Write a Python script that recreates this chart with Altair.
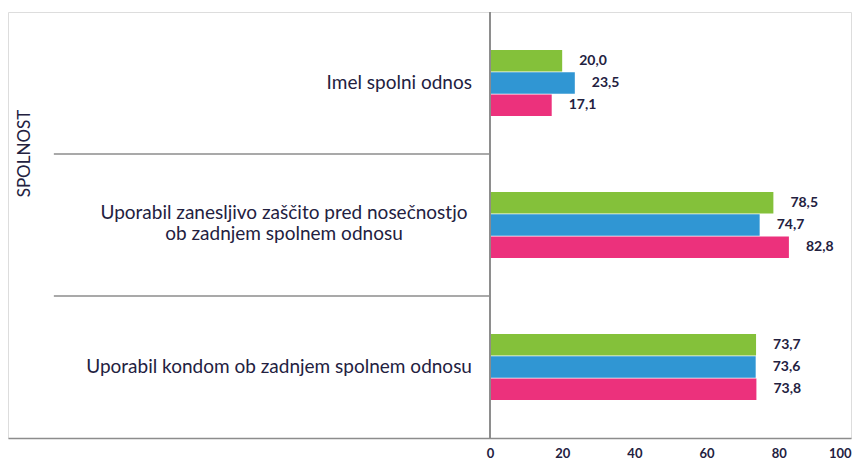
import altair as alt
import pandas as pd

categories = [
    "Imel spolni odnos",
    "Uporabil zanesljivo zaščito pred nosečnostjo\nob zadnjem spolnem odnosu",
    "Uporabil kondom ob zadnjem spolnem odnosu",
]
series = ["Skupaj", "Fantje", "Dekleta"]
colors = ["#84c13a", "#3096d3", "#ec317c"]
values_skupaj = [20.0, 78.5, 73.7]
values_fantje = [23.5, 74.7, 73.6]
values_dekleta = [17.1, 82.8, 73.8]
x_ticks = [0, 20, 40, 60, 80, 100]

rows = []
for s, vals in zip(series, [values_skupaj, values_fantje, values_dekleta]):
    for c, v in zip(categories, vals):
        rows.append({"cat": c, "series": s, "value": v})
df = pd.DataFrame(rows)
cat_df = pd.DataFrame({"cat": categories})
sep_df = pd.DataFrame({"cat": categories[1:]})

FONT = "Lato"
TXT = "#23213f"
GREY = "#8c8c8c"

xscale = alt.Scale(domain=[-133.5, 100], nice=False, zero=False)
yscale = alt.Scale(domain=categories, paddingInner=0.535, paddingOuter=0.2675)
yoff = alt.YOffset("series:N", sort=series, scale=alt.Scale(paddingInner=0.04))

bars = alt.Chart(df).mark_bar().encode(
    x=alt.X("value:Q", scale=xscale,
            axis=alt.Axis(values=x_ticks, title=None, ticks=False, grid=False,
                          domainColor=GREY, domainWidth=1.5, labelPadding=9,
                          labelFont=FONT, labelFontSize=13, labelFontWeight="bold",
                          labelColor=TXT, labelFlush=True)),
    y=alt.Y("cat:N", scale=yscale,
            axis=alt.Axis(title="SPOLNOST", labels=False, ticks=False, domain=False,
                          titleX=16, titleY=141, titleAngle=270, titleAlign="center",
                          titleBaseline="middle", titleFont=FONT, titleFontSize=17,
                          titleFontWeight="normal", titleColor=TXT)),
    yOffset=yoff,
    color=alt.Color("series:N", sort=series,
                    scale=alt.Scale(domain=series, range=colors), legend=None),
)

vals = alt.Chart(df).transform_calculate(
    lbl="replace(format(datum.value, '.1f'), '.', ',')"
).mark_text(align="left", baseline="middle", dx=17, font=FONT, fontSize=14,
            fontWeight="bold", color=TXT).encode(
    x=alt.X("value:Q", scale=xscale),
    y=alt.Y("cat:N", scale=yscale),
    yOffset=yoff,
    text="lbl:N",
)

labels_single = alt.Chart(cat_df).transform_filter(
    "indexof(datum.cat, '\\n') < 0"
).mark_text(align="right", baseline="middle", dx=-18,
            font=FONT, fontSize=19, color=TXT).encode(
    x=alt.datum(0),
    y=alt.Y("cat:N", scale=yscale),
    text="cat:N",
)

labels_multi = alt.Chart(cat_df).transform_filter(
    "indexof(datum.cat, '\\n') >= 0"
).mark_text(align="center", baseline="middle", dx=-206, dy=-12,
            font=FONT, fontSize=19, color=TXT,
            lineBreak="\n", lineHeight=21).encode(
    x=alt.datum(0),
    y=alt.Y("cat:N", scale=yscale),
    text="cat:N",
)

vline = alt.Chart(cat_df).mark_rule(color=GREY, strokeWidth=1.5).encode(
    x=alt.datum(0),
)

main = alt.layer(bars, vals, labels_single, labels_multi, vline)

seps = alt.Chart(sep_df).mark_rule(color=GREY, strokeWidth=1.5).encode(
    x=alt.datum(-120.8),
    x2=alt.datum(0),
    y=alt.Y("cat:N", bandPosition=0,
            scale=alt.Scale(domain=categories, paddingInner=0, paddingOuter=0),
            axis=None),
)

chart = alt.layer(main, seps).resolve_scale(y="independent").properties(
    width=843, height=426,
    autosize=alt.AutoSizeParams(type="none"),
    padding={"left": 8, "top": 12, "right": 13, "bottom": 30},
).configure_view(stroke=None).configure(background="white")

chart.save("out.html", embed_options={"renderer": "svg", "actions": False})
